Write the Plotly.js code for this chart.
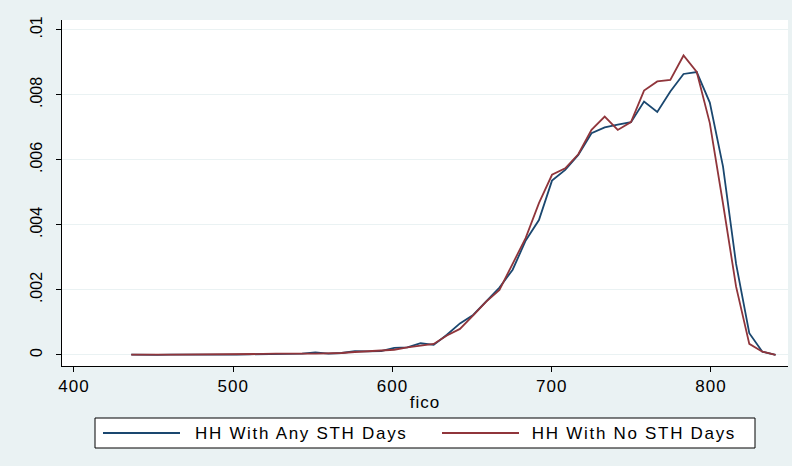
<!DOCTYPE html>
<html>
<head>
<meta charset="utf-8">
<script src="https://cdn.plot.ly/plotly-3.0.1.min.js"></script>
<style>
  html, body { margin: 0; padding: 0; background: #EAF2F3; }
  #chart { width: 792px; height: 466px; }
  #chart svg text { letter-spacing: 1px; }
  #chart svg .ytick text { letter-spacing: 0px; }
  #chart svg .annotation-text { letter-spacing: 1.7px; }
</style>
</head>
<body>
<div id="chart"></div>
<script>
// Evaluation points (fico)
const fico = [436.0, 444.3, 452.5, 460.8, 469.0, 477.3, 485.5, 493.8, 502.1, 510.3,
              518.6, 526.8, 535.1, 543.3, 551.6, 559.9, 568.1, 576.4, 584.6, 592.9,
              601.1, 609.4, 617.7, 625.9, 634.2, 642.4, 650.7, 658.9, 667.2, 675.5,
              683.7, 692.0, 700.2, 708.5, 716.7, 725.0, 733.3, 741.5, 749.8, 758.0,
              766.3, 774.5, 782.8, 791.1, 799.3, 807.6, 815.8, 824.1, 832.3, 840.6];

// Density: HH With Any STH Days
const densAny = [0.00001, 0.00000, 0.00000, 0.00001, 0.00002, 0.00001, 0.00001, 0.00000, 0.00001, 0.00002,
                 0.00003, 0.00004, 0.00003, 0.00004, 0.00008, 0.00004, 0.00006, 0.00012, 0.00011, 0.00012,
                 0.00022, 0.00023, 0.00036, 0.00031, 0.00062, 0.00097, 0.00123, 0.00164, 0.00207, 0.00262,
                 0.00352, 0.00415, 0.00536, 0.00569, 0.00615, 0.00682, 0.00700, 0.00708, 0.00716, 0.00779,
                 0.00747, 0.00810, 0.00864, 0.00870, 0.00776, 0.00579, 0.00280, 0.00067, 0.00010, 0.00000];

// Density: HH With No STH Days
const densNo = [0.00001, 0.00000, 0.00001, 0.00001, 0.00001, 0.00001, 0.00001, 0.00001, 0.00002, 0.00002,
                0.00003, 0.00004, 0.00003, 0.00004, 0.00004, 0.00004, 0.00006, 0.00009, 0.00011, 0.00012,
                0.00016, 0.00023, 0.00029, 0.00034, 0.00060, 0.00080, 0.00122, 0.00164, 0.00200, 0.00282,
                0.00360, 0.00467, 0.00554, 0.00574, 0.00617, 0.00692, 0.00733, 0.00692, 0.00716, 0.00813,
                0.00841, 0.00846, 0.00921, 0.00870, 0.00713, 0.00465, 0.00210, 0.00034, 0.00010, 0.00000];

const seriesNames = ["HH With Any STH Days", "HH With No STH Days"];
const seriesColors = ["#1A476F", "#90353B"];

const yTickVals = [0, 0.002, 0.004, 0.006, 0.008, 0.01];
const yTickText = ["0", ".002", ".004", ".006", ".008", ".01"];
const xTickVals = [400, 500, 600, 700, 800];
const xTickText = ["400", "500", "600", "700", "800"];

const FONT = "Liberation Sans, Arial, sans-serif";
const FS = 17;

const traces = [
  { x: fico, y: densAny, type: "scatter", mode: "lines", name: seriesNames[0],
    line: { color: seriesColors[0], width: 1.8 }, showlegend: false },
  { x: fico, y: densNo, type: "scatter", mode: "lines", name: seriesNames[1],
    line: { color: seriesColors[1], width: 1.8 }, showlegend: false }
];

// plot area in pixels
const L = 62, R = 4, T = 20, B = 100, W = 792, H = 466;
const pw = W - L - R, ph = H - T - B;
const px = p => (p - L) / pw;        // pixel x -> paper x
const py = q => (H - B - q) / ph;    // pixel y -> paper y

const shapes = [
  // legend box
  { type: "rect", xref: "paper", yref: "paper", x0: px(95), x1: px(755), y0: py(448), y1: py(418),
    line: { color: "#000000", width: 1 }, fillcolor: "#FFFFFF", layer: "above" },
  { type: "line", xref: "paper", yref: "paper", x0: px(103), x1: px(180), y0: py(433), y1: py(433),
    line: { color: seriesColors[0], width: 1.8 } },
  { type: "line", xref: "paper", yref: "paper", x0: px(442), x1: px(519), y0: py(433), y1: py(433),
    line: { color: seriesColors[1], width: 1.8 } }
];

const annotations = [
  { xref: "paper", yref: "paper", x: px(301), y: py(433), xanchor: "center", yanchor: "middle",
    text: seriesNames[0], showarrow: false, font: { family: FONT, size: FS, color: "#000" } },
  { xref: "paper", yref: "paper", x: px(634), y: py(433), xanchor: "center", yanchor: "middle",
    text: seriesNames[1], showarrow: false, font: { family: FONT, size: FS, color: "#000" } }
];

const layout = {
  width: W, height: H,
  margin: { l: L, r: R, t: T, b: B, pad: 0 },
  paper_bgcolor: "#EAF2F3",
  plot_bgcolor: "#FFFFFF",
  font: { family: FONT, size: FS, color: "#000" },
  showlegend: false,
  xaxis: {
    range: [392.5, 848.4],
    tickvals: xTickVals, ticktext: xTickText,
    ticks: "outside", ticklen: 5, tickcolor: "#000", tickwidth: 1,
    showgrid: false, zeroline: false,
    showline: true, linecolor: "#000", linewidth: 1,
    tickfont: { family: FONT, size: FS, color: "#000" },
    title: { text: "fico", font: { family: FONT, size: FS, color: "#000" }, standoff: 0 }
  },
  yaxis: {
    range: [-0.00034, 0.0103],
    tickvals: yTickVals, ticktext: yTickText,
    tickangle: -90,
    ticks: "outside", ticklen: 5, tickcolor: "#000", tickwidth: 1,
    ticklabelstandoff: 8,
    showgrid: true, gridcolor: "#EAF2F3", gridwidth: 1,
    zeroline: false,
    showline: true, linecolor: "#000", linewidth: 1,
    tickfont: { family: FONT, size: 16, color: "#000" }
  },
  shapes: shapes,
  annotations: annotations
};

Plotly.newPlot("chart", traces, layout, { staticPlot: true, displayModeBar: false });
</script>
</body>
</html>
